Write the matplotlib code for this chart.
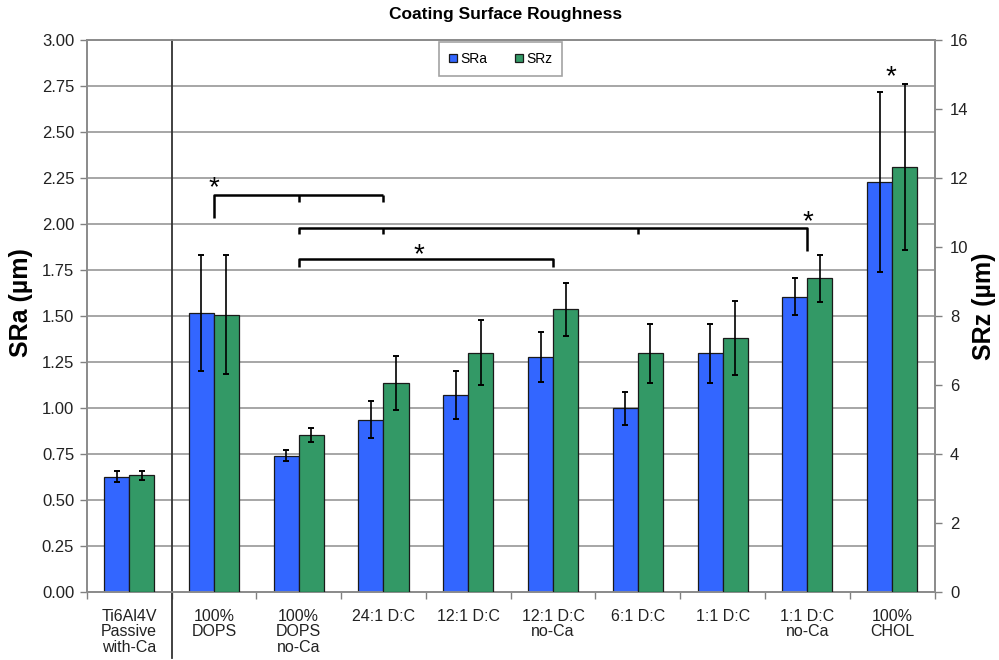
import numpy as np
import matplotlib.pyplot as plt

plt.rcParams['font.family'] = ['Liberation Sans', 'DejaVu Sans']

groups = ["Ti6Al4V\nPassive\nwith-Ca", "100%\nDOPS", "100%\nDOPS\nno-Ca", "24:1 D:C",
          "12:1 D:C", "12:1 D:C\nno-Ca", "6:1 D:C", "1:1 D:C", "1:1 D:C\nno-Ca", "100%\nCHOL"]
sra = [0.627, 1.515, 0.741, 0.936, 1.072, 1.277, 0.998, 1.297, 1.605, 2.23]
sra_err = [0.029, 0.314, 0.029, 0.100, 0.130, 0.135, 0.089, 0.160, 0.100, 0.490]
srz = [3.38, 8.04, 4.55, 6.05, 6.93, 8.19, 6.92, 7.37, 9.09, 12.31]
srz_err = [0.13, 1.72, 0.21, 0.78, 0.94, 0.78, 0.85, 1.07, 0.69, 2.41]

# significance brackets: (x points, y points) on the SRa scale, plus star positions
brackets = [
    ([1, 1, 3], [2.03, 2.158, 2.158]),
    ([3, 3], [2.158, 2.12]),
    ([2, 2], [2.158, 2.12]),
    ([2, 2, 8, 8], [1.946, 1.977, 1.977, 1.855]),
    ([3, 3], [1.977, 1.946]),
    ([6, 6], [1.977, 1.946]),
    ([2, 2, 5, 5], [1.766, 1.808, 1.808, 1.766]),
]
stars = [(1.0, 2.195), (8.0, 2.01), (3.42, 1.83), (8.98, 2.80)]

blue = '#3366ff'
green = '#339966'
grid_gray = '#a6a6a6'

fig = plt.figure(figsize=(9.99, 6.6), dpi=100)
ax = fig.add_axes([0.0868, 0.1030, 0.8488, 0.8364])
ax2 = ax.twinx()

x = np.arange(len(groups))
w = 0.295
ekw = dict(ecolor='black', elinewidth=1.2, capsize=2.3, capthick=1.4)
b1 = ax.bar(x - w / 2, sra, w, yerr=sra_err, color=blue, edgecolor='#1a1a1a',
            linewidth=0.9, error_kw=ekw, zorder=3, label='SRa')
b2 = ax2.bar(x + w / 2, srz, w, yerr=srz_err, color=green, edgecolor='#1a1a1a',
             linewidth=0.9, error_kw=ekw, zorder=3, label='SRz')

ax.set_xlim(-0.5, len(groups) - 0.5)
ax.set_ylim(0, 3)
ax2.set_ylim(0, 16)
ax.set_yticks(np.arange(0, 3.01, 0.25))
ax.set_yticklabels([f"{v:.2f}" for v in np.arange(0, 3.01, 0.25)])
ax2.set_yticks(np.arange(0, 17, 2))

ax.set_axisbelow(True)
ax.yaxis.grid(True, color=grid_gray, linewidth=1.4)

ax.set_xticks(x)
ax.set_xticklabels(groups, fontsize=11.5, linespacing=1.05, color='#222222')
ax.set_xticks(np.arange(-0.5, len(groups)), minor=True)
ax.tick_params(axis='x', which='major', length=0, pad=12)
ax.tick_params(axis='x', which='minor', length=5, width=1, color='#808080')
ax.tick_params(axis='y', length=5, width=1, color='#808080', labelsize=12,
               labelcolor='#222222', pad=4)
ax2.tick_params(axis='y', length=5, width=1, color='#808080', labelsize=12,
                labelcolor='#222222', pad=6)

for a in (ax, ax2):
    for s in a.spines.values():
        s.set_color('#8c8c8c')
        s.set_linewidth(1.3)

# divider between the bare substrate and the coated samples
ax.plot([0.5, 0.5], [1.0, -0.12], transform=ax.get_xaxis_transform(),
        color='#333333', linewidth=1.3, clip_on=False, zorder=4)

for bx, by in brackets:
    ax.plot(bx, by, color='black', linewidth=1.8, solid_capstyle='butt', zorder=4)
for sx, sy in stars:
    ax.text(sx, sy, '*', fontsize=20, ha='center', va='center', zorder=5)

ax.set_ylabel('SRa (µm)', fontsize=18, fontweight='bold')
ax.yaxis.set_label_coords(-0.063, 0.525)
ax2.set_ylabel('SRz (µm)', fontsize=18, fontweight='bold', rotation=90)
ax2.yaxis.set_label_coords(1.044, 0.518)

fig.text(0.506, 0.978, 'Coating Surface Roughness', fontsize=12.5, fontweight='bold',
         ha='center', va='center')

leg = ax2.legend([b1, b2], ['SRa', 'SRz'], loc='center', bbox_to_anchor=(0.488, 0.9656),
                 ncol=2, fontsize=10, frameon=True, fancybox=False, handlelength=0.6,
                 handleheight=0.6, handletextpad=0.2, columnspacing=2.0, borderpad=0.75)
leg.get_frame().set_edgecolor('#8c8c8c')
leg.get_frame().set_linewidth(1.2)

fig.savefig('out.png', dpi=100)
